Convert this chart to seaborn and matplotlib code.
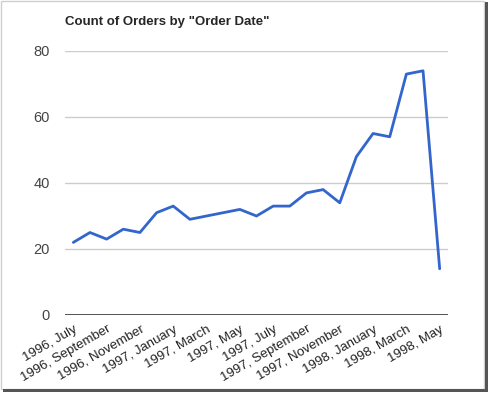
import matplotlib
matplotlib.use("Agg")
import matplotlib.pyplot as plt
import seaborn as sns
import pandas as pd
from matplotlib.patches import Rectangle

# Monthly order counts, 1996 July .. 1998 May
months = [
    "1996, July", "1996, August", "1996, September", "1996, October",
    "1996, November", "1996, December", "1997, January", "1997, February",
    "1997, March", "1997, April", "1997, May", "1997, June",
    "1997, July", "1997, August", "1997, September", "1997, October",
    "1997, November", "1997, December", "1998, January", "1998, February",
    "1998, March", "1998, April", "1998, May",
]
counts = [22, 25, 23, 26, 25, 31, 33, 29, 30, 31, 32, 30,
          33, 33, 37, 38, 34, 48, 55, 54, 73, 74, 14]
y_ticks = [0, 20, 40, 60, 80]

df = pd.DataFrame({"pos": range(len(months)), "count": counts})

sns.set_style("white")
plt.rcParams["font.family"] = ["Liberation Sans", "DejaVu Sans"]

fig = plt.figure(figsize=(4.89, 3.94), dpi=100)
ax = fig.add_axes([65 / 489, 1 - 315 / 394, 383 / 489, 264 / 394])

for t in y_ticks[1:]:
    ax.axhline(t, color="#cccccc", lw=1, zorder=0)
ax.axhline(0, color="#333333", lw=1.2, zorder=1)

sns.lineplot(data=df, x="pos", y="count", ax=ax, color="#3366cc", lw=2)

ax.set_xlim(-0.5, len(months) - 0.5)
ax.set_ylim(0, 80)
ax.set_yticks(y_ticks)
ax.set_yticklabels([str(t) for t in y_ticks], color="#444444", fontsize=10.5)
ax.set_xticks(range(0, len(months), 2))
ax.set_xticklabels(months[::2], rotation=30, ha="right", rotation_mode="anchor",
                   color="#222222", fontsize=9.5)
ax.tick_params(axis="both", length=0, pad=6)
ax.tick_params(axis="y", pad=11)
ax.set_xlabel("")
ax.set_ylabel("")
for s in ax.spines.values():
    s.set_visible(False)

fig.text(65 / 489, 1 - 22 / 394, 'Count of Orders by "Order Date"',
         fontsize=9.5, fontweight="bold", va="center", ha="left")

# screenshot frame with shadow
fig.patches.append(Rectangle((0.5 / 489, 1 - 389 / 394), 484 / 489, 388.5 / 394,
                             transform=fig.transFigure, fill=False,
                             edgecolor="#cfcfcf", lw=1))
fig.patches.append(Rectangle((485 / 489, 1 - 391 / 394), 3 / 489, 389 / 394,
                             transform=fig.transFigure, color="#555555", lw=0))
fig.patches.append(Rectangle((3 / 489, 1 - 392 / 394), 485 / 489, 3 / 394,
                             transform=fig.transFigure, color="#555555", lw=0))

fig.savefig("out.png", dpi=100)
